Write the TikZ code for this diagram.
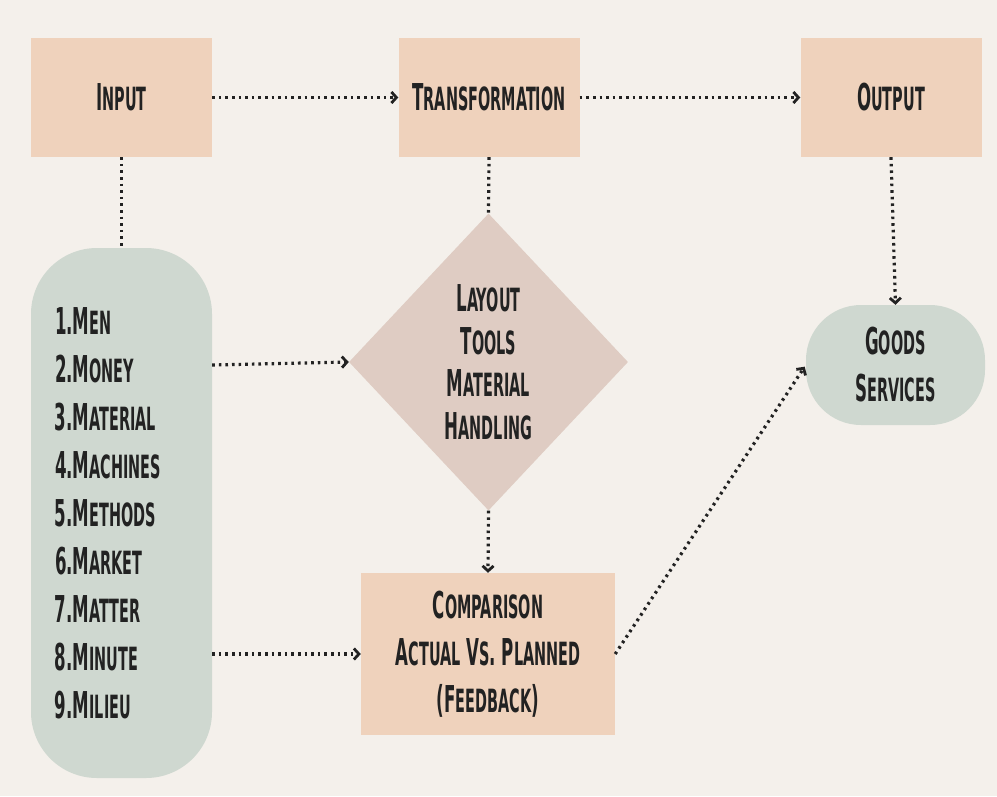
\documentclass[tikz,border=0pt]{standalone}
\usepackage{fontspec}
\usetikzlibrary{shapes.geometric,arrows.meta}
\newfontfamily\dispfont{DejaVu Sans}[FakeStretch=0.45]
% small capitals made by hand: smaller upper-case letters
\newcommand\smc[1]{{\fontsize{32}{42}\selectfont #1}}
\definecolor{bgc}{HTML}{F4F0EB}
\definecolor{peach}{HTML}{EFD2BC}
\definecolor{rose}{HTML}{DFCCC3}
\definecolor{sage}{HTML}{CFD8D0}
\definecolor{ink}{HTML}{222222}
\tikzset{
  lbl/.style={font=\dispfont\bfseries\fontsize{37}{47}\selectfont, text=ink, align=center, inner sep=0pt},
  pbox/.style={lbl, rectangle, fill=peach, minimum width=181pt, minimum height=119pt},
  dots/.style={line width=3.2pt, dash pattern=on 2.6pt off 4pt, draw=ink},
  dotarrow/.style={dots, -{Straight Barb[length=5pt, width=11pt, line width=2.8pt]}},
}
\begin{document}
\begin{tikzpicture}[x=1pt, y=-1pt]
  \fill[bgc] (0,0) rectangle (997,796);
  \useasboundingbox (0,0) rectangle (997,796);

  % top row
  \node[pbox] (input) at (121.5,97.5) {I\smc{NPUT}};
  \node[pbox] (trans) at (489,97.5) {T\smc{RANSFORMATION}};
  \node[pbox] (output) at (891,97.5) {O\smc{UTPUT}};

  % resources
  \node[lbl, rectangle, fill=sage, rounded corners=66pt, minimum width=181pt,
        minimum height=530pt, text width=133pt, inner xsep=24pt, align=left,
        font=\dispfont\bfseries\fontsize{37}{48}\selectfont]
    (res) at (121.5,513)
    {1.M\smc{EN}\\
     2.M\smc{ONEY}\\
     3.M\smc{ATERIAL}\\
     4.M\smc{ACHINES}\\
     5.M\smc{ETHODS}\\
     6.M\smc{ARKET}\\
     7.M\smc{ATTER}\\
     8.M\smc{INUTE}\\
     9.M\smc{ILIEU}};

  % transformation elements
  \node[lbl, diamond, fill=rose, minimum width=279pt, minimum height=297pt,
        font=\dispfont\bfseries\fontsize{37}{42.5}\selectfont]
    (dia) at (488.5,362)
    {L\smc{AYOUT}\\ T\smc{OOLS}\\ M\smc{ATERIAL}\\ H\smc{ANDLING}};

  % comparison
  \node[lbl, rectangle, fill=peach, minimum width=254pt, minimum height=162pt]
    (cmp) at (488,654)
    {C\smc{OMPARISON}\\ A\smc{CTUAL} V\smc{S}. P\smc{LANNED}\\ (F\smc{EEDBACK})};

  % products
  \node[lbl, rectangle, fill=sage, rounded corners=55pt, minimum width=179pt,
        minimum height=120pt]
    (goods) at (895.5,365)
    {G\smc{OODS}\\ S\smc{ERVICES}};

  % connectors
  \draw[dotarrow] (input.east) -- (trans.west);
  \draw[dotarrow] (trans.east) -- (output.west);
  \draw[dots] (input.south) -- (res.north);
  \draw[dots] (trans.south) -- (dia.north);
  \draw[dotarrow] (output.south) -- (goods.north);
  \draw[dotarrow] (res.east |- 0,365) -- (dia.west);
  \draw[dotarrow] (dia.south) -- (cmp.north);
  \draw[dotarrow] (res.east |- cmp.west) -- (cmp.west);
  \draw[dotarrow, shorten >=2pt] (cmp.east) -- (goods.west);
\end{tikzpicture}
\end{document}
